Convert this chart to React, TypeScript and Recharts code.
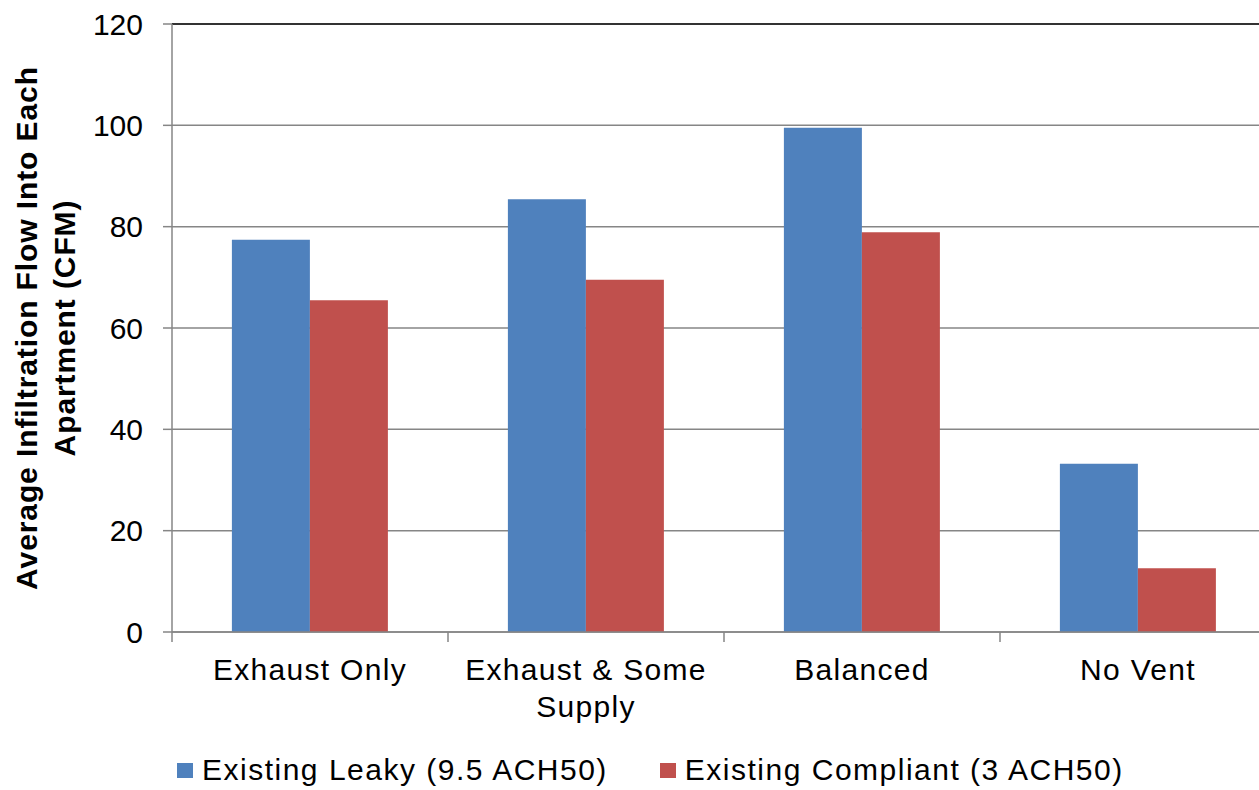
import React from 'react'
import {
  BarChart, Bar, XAxis, YAxis, CartesianGrid, Legend, ReferenceLine,
} from 'recharts'

const categories = ['Exhaust Only', 'Exhaust & Some\nSupply', 'Balanced', 'No Vent']
const leaky = [77.4, 85.4, 99.5, 33.2]
const compliant = [65.5, 69.5, 78.9, 12.6]
const yTicks = [0, 20, 40, 60, 80, 100, 120]

const SERIES = [
  { key: 'leaky', name: 'Existing Leaky (9.5 ACH50)', color: '#4F81BD' },
  { key: 'compliant', name: 'Existing Compliant (3 ACH50)', color: '#C0504D' },
]

const FONT = '"Liberation Sans", Arial, sans-serif'
const AXIS_GREY = '#868686'

const data = categories.map((name, i) => ({
  name,
  leaky: leaky[i],
  compliant: compliant[i],
}))

// category label plus the small tick marks on the band edges
function CategoryTick({ x, y, payload, index, visibleTicksCount }: any) {
  const lines = String(payload.value).split('\n')
  const half = payload.offset ?? 0
  const isLast = index === visibleTicksCount - 1
  return (
    <g>
      <line x1={x - half} x2={x - half} y1={y} y2={y + 10} stroke={AXIS_GREY} strokeWidth={1.5} />
      {isLast && (
        <line x1={x + half} x2={x + half} y1={y} y2={y + 10} stroke={AXIS_GREY} strokeWidth={1.5} />
      )}
      {lines.map((line, i) => (
        <text
          key={i}
          x={x}
          y={y + 48 + i * 37}
          textAnchor="middle"
          fontSize={30}
          letterSpacing={1.3}
          fontFamily={FONT}
          fill="#000"
        >
          {line}
        </text>
      ))}
    </g>
  )
}

function YTitle({ viewBox }: any) {
  const cy = viewBox.y + viewBox.height / 2
  const lines = ['Average Infiltration Flow Into Each', 'Apartment (CFM)']
  return (
    <g>
      {lines.map((line, i) => {
        const x = 37 + i * 38
        return (
          <text
            key={i}
            x={x}
            y={cy}
            transform={`rotate(-90 ${x} ${cy})`}
            textAnchor="middle"
            fontSize={30}
            fontWeight="bold"
            letterSpacing={0.9}
            fontFamily={FONT}
            fill="#000"
          >
            {line}
          </text>
        )
      })}
    </g>
  )
}

function LegendRow() {
  return (
    <div style={{ display: 'flex', alignItems: 'center', paddingLeft: 177, height: 32, fontFamily: FONT }}>
      {SERIES.map((s, i) => (
        <div key={s.key} style={{ display: 'flex', alignItems: 'center', marginRight: i === 0 ? 52 : 0 }}>
          <span style={{ width: 16, height: 15, background: s.color, display: 'inline-block', marginRight: 9 }} />
          <span style={{ fontSize: 30, letterSpacing: 1.5, color: '#000', lineHeight: '32px' }}>{s.name}</span>
        </div>
      ))}
    </div>
  )
}

export default function App() {
  return (
    <div style={{ position: 'absolute', left: 0, top: 0, width: 1259, height: 790, overflow: 'hidden', background: '#fff' }}>
      <BarChart
        width={1300}
        height={790}
        data={data}
        margin={{ top: 24, right: 24, left: 0, bottom: 0 }}
        barCategoryGap="21.7%"
        barGap={0}
      >
        <CartesianGrid vertical={false} stroke={AXIS_GREY} strokeWidth={1.5} />
        <XAxis
          dataKey="name"
          height={126}
          interval={0}
          tickLine={false}
          tickSize={0}
          tickMargin={0}
          axisLine={{ stroke: AXIS_GREY, strokeWidth: 1.5 }}
          tick={<CategoryTick />}
        />
        <YAxis
          width={172}
          domain={[0, 120]}
          ticks={yTicks}
          tickSize={9}
          tickMargin={20}
          axisLine={{ stroke: AXIS_GREY, strokeWidth: 1.5 }}
          tickLine={{ stroke: AXIS_GREY, strokeWidth: 1.5 }}
          tick={{ fontSize: 30, fill: '#000', fontFamily: FONT }}
          label={{ content: (props: any) => <YTitle {...props} /> }}
        />
        <ReferenceLine y={120} stroke="#333" strokeWidth={2} />
        <Legend
          verticalAlign="bottom"
          height={40}
          wrapperStyle={{ left: 0, top: 754, bottom: 'auto', width: 1259, height: 32 }}
          content={() => <LegendRow />}
        />
        {SERIES.map((s) => (
          <Bar
            key={s.key}
            dataKey={s.key}
            name={s.name}
            fill={s.color}
            isAnimationActive={false}
          />
        ))}
      </BarChart>
    </div>
  )
}
